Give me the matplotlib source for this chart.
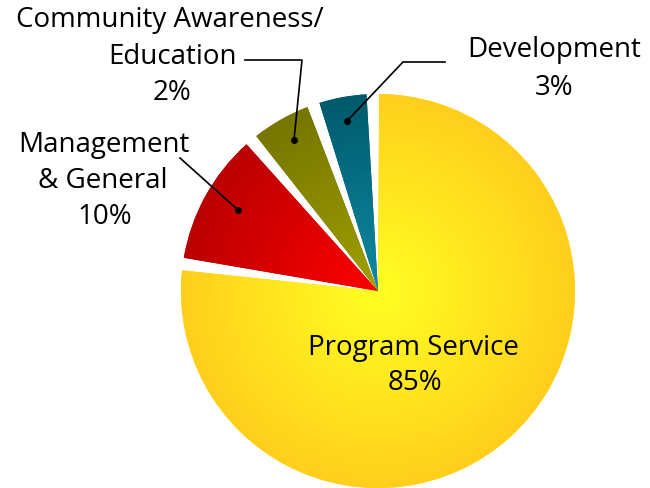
import matplotlib
matplotlib.use("Agg")
import matplotlib.pyplot as plt
import numpy as np
from matplotlib.colors import LinearSegmentedColormap

# slice shares as drawn (labels show the rounded figures from the source)
categories = ["Program Service", "Management\n& General", "Community Awareness/\nEducation", "Development"]
shares = [77.6, 11.7, 5.8, 4.9]
pct_labels = ["85%", "10%", "2%", "3%"]

# inner -> outer colours of each radial gradient
inner_cols = ["#ffff22", "#ff0000", "#a0a000", "#0f8aa3"]
outer_cols = ["#ffcf1c", "#bb0000", "#767600", "#005a6c"]

W, H = 650, 489
fig = plt.figure(figsize=(6.5, 4.89), dpi=100)
ax = fig.add_axes([0, 0, 1, 1])

def Y(y):
    return H - y

cx, cy, r = 378, Y(292), 197
wedges, _ = ax.pie(shares, center=(cx, cy), radius=r, startangle=91.5,
                   counterclock=False, colors=outer_cols,
                   wedgeprops=dict(edgecolor="none"), frame=True)
ax.set_xlim(0, W)
ax.set_ylim(0, H)
ax.set_aspect("equal")
ax.axis("off")

gap = 1.85
xx, yy = np.meshgrid(np.linspace(cx - r, cx + r, 400), np.linspace(cy - r, cy + r, 400))
dist = np.clip(np.hypot(xx - cx, yy - cy) / r, 0, 1)
for w, c0, c1 in zip(wedges, inner_cols, outer_cols):
    w.set_theta1(w.theta1 + gap)
    w.set_theta2(w.theta2 - gap)
    cmap = LinearSegmentedColormap.from_list("g", [c0, c1])
    im = ax.imshow(dist, cmap=cmap, extent=(cx - r, cx + r, cy - r, cy + r),
                   origin="lower", vmin=0, vmax=1, zorder=2, interpolation="bilinear")
    im.set_clip_path(w)

font = dict(family=["Open Sans", "DejaVu Sans"], fontsize=20, color="black",
            ha="center", va="center", zorder=5)

ax.text(170, Y(20), "Community Awareness/", **font)
ax.text(172, Y(57), "Education", **font)
ax.text(172, Y(93), pct_labels[2], **font)

ax.text(104, Y(145), "Management", **font)
ax.text(103, Y(181), "& General", **font)
ax.text(105, Y(217), pct_labels[1], **font)

ax.text(554, Y(50), categories[3], **font)
ax.text(554, Y(88), pct_labels[3], **font)

ax.text(413, Y(348), categories[0], **font)
ax.text(415, Y(383), pct_labels[0], **font)

# leader lines
leaders = [
    ([245, 302, 294], [61, 61, 141]),
    ([180, 238], [159, 211]),
    ([445, 403, 347], [63, 63, 122]),
]
for xs, ys in leaders:
    ax.plot(xs, [Y(v) for v in ys], color="black", lw=1.2, zorder=6)
    ax.plot(xs[-1], Y(ys[-1]), "o", color="black", ms=4, zorder=6)

fig.savefig("out.png", dpi=100)
